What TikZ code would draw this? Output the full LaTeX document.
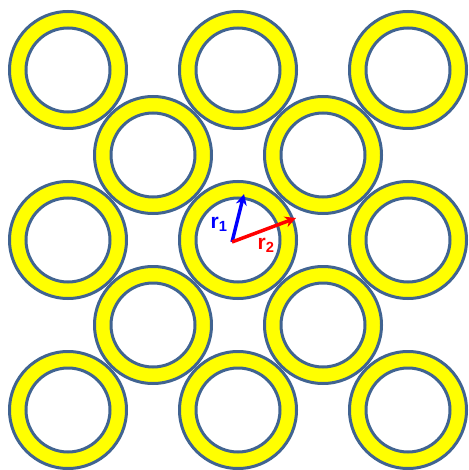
\documentclass[tikz,border=0pt]{standalone}
\usepackage{fontspec}
\setmainfont{Liberation Sans}
\usetikzlibrary{arrows.meta, positioning}
\definecolor{ringedge}{RGB}{65,100,145}
\definecolor{ringfill}{RGB}{255,255,0}

\begin{document}
\begin{tikzpicture}[x=1pt, y=-1pt,
        ring/.style={circle, draw=ringedge, fill=ringfill, line width=3pt,
                     minimum size=117pt, inner sep=0pt},
        hole/.style={circle, draw=ringedge, fill=white, line width=3pt,
                     minimum size=84pt, inner sep=0pt},
        arr/.style={-{Stealth[length=11pt, width=11pt]}, line width=3.5pt},
        lbl/.style={font=\bfseries\fontsize{21}{21}\selectfont, inner sep=0pt},
    ]
        \useasboundingbox (0,0) rectangle (468,470);

        % Outer square lattice
        \foreach \i/\x in {1/68, 2/238, 3/408} {
            \foreach \j/\y in {1/70, 2/240, 3/410} {
                \node[ring] (ring\i\j) at (\x,\y) {};
                \node[hole] (hole\i\j) at (ring\i\j.center) {};
            }
        }

        % Centred lattice
        \foreach \i/\x in {1/153, 2/323} {
            \foreach \j/\y in {1/155, 2/325} {
                \node[ring] (cring\i\j) at (\x,\y) {};
                \node[hole] (chole\i\j) at (cring\i\j.center) {};
            }
        }

        % Vectors
        \coordinate (origin) at (232,242);
        \coordinate (tipa) at (244,194);
        \coordinate (tipb) at (296,218);
        \draw[arr, blue] (origin) -- (tipa);
        \draw[arr, red] (origin) -- (tipb);
        \node[lbl, text=blue] (labela) at (219,224) {r\textsubscript{1}};
        \node[lbl, text=red] (labelb) at (266,245) {r\textsubscript{2}};
\end{tikzpicture}
\end{document}
